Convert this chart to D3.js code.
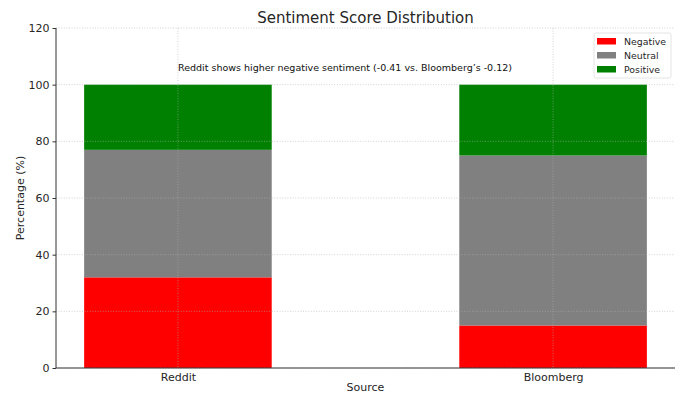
<!DOCTYPE html>
<html><head><meta charset="utf-8">
<script src="https://cdn.jsdelivr.net/npm/d3@7"></script>
<style>body{margin:0;background:#fff}svg{display:block;font-family:"DejaVu Sans",sans-serif}</style>
</head><body><svg id="c" width="681" height="397"></svg>
<script>
const categories = ["Reddit", "Bloomberg"];
const seriesNames = ["Negative", "Neutral", "Positive"];
const negative = [32, 15];
const neutral = [45, 60];
const positive = [23, 25];
const colors = ["#ff0000", "#808080", "#008000"];
const yTicks = [0, 20, 40, 60, 80, 100, 120];
const title = "Sentiment Score Distribution";
const annotation = "Reddit shows higher negative sentiment (-0.41 vs. Bloomberg\u2019s -0.12)";

const svg = d3.select("#c");
const m = {l: 56, r: 6, t: 28, b: 29};
const W = 681, H = 397;
const x = d3.scaleLinear().domain([-0.325, 1.325]).range([m.l, W - m.r]);
const y = d3.scaleLinear().domain([0, 120]).range([H - m.b, m.t]);
const bw = 0.5;

const rows = categories.map((c, i) => ({cat: c, i, Negative: negative[i], Neutral: neutral[i], Positive: positive[i]}));
const stacked = d3.stack().keys(seriesNames)(rows);

const g = svg.append("g");
stacked.forEach((s, k) => {
  g.selectAll(null).data(s).enter().append("rect")
    .attr("x", d => x(d.data.i - bw / 2))
    .attr("width", d => x(d.data.i + bw / 2) - x(d.data.i - bw / 2))
    .attr("y", d => y(d[1]))
    .attr("height", d => y(d[0]) - y(d[1]))
    .attr("fill", colors[k]);
});

// grid
const grid = svg.append("g").attr("stroke", "#b0b0b0").attr("stroke-opacity", 0.7).attr("stroke-width", 0.8).attr("stroke-dasharray", "1,1.6");
yTicks.forEach(t => grid.append("line").attr("x1", m.l).attr("x2", W - m.r).attr("y1", y(t)).attr("y2", y(t)));
categories.forEach((c, i) => grid.append("line").attr("x1", x(i)).attr("x2", x(i)).attr("y1", m.t).attr("y2", H - m.b));

// axes
const ya = svg.append("g").attr("transform", `translate(${m.l},0)`)
  .call(d3.axisLeft(y).tickValues(yTicks).tickSize(3.5).tickPadding(3));
const xa = svg.append("g").attr("transform", `translate(0,${H - m.b})`)
  .call(d3.axisBottom(x).tickValues(categories.map((c, i) => i)).tickFormat(i => categories[i]).tickSize(0).tickPadding(5));
[ya, xa].forEach(a => {
  a.selectAll("path").attr("stroke", "#333").attr("stroke-width", 1);
  a.selectAll("line").attr("stroke", "#333");
  a.selectAll("text").attr("font-size", 11).attr("fill", "#262626").attr("font-family", "DejaVu Sans");
});
ya.select(".domain").attr("d", `M0,${H - m.b}V${m.t}`);
xa.select(".domain").attr("d", `M${m.l},0H${W - m.r}`);

svg.append("text").attr("x", (m.l + W - m.r) / 2).attr("y", 23).attr("text-anchor", "middle")
  .attr("font-size", 15).attr("fill", "#262626").text(title);
svg.append("text").attr("x", (m.l + W - m.r) / 2).attr("y", 391).attr("text-anchor", "middle")
  .attr("font-size", 11).attr("fill", "#262626").text("Source");
svg.append("text").attr("transform", `translate(24,${(m.t + H - m.b) / 2}) rotate(-90)`).attr("text-anchor", "middle")
  .attr("font-size", 11).attr("fill", "#262626").text("Percentage (%)");
svg.append("text").attr("x", 345).attr("y", 71).attr("text-anchor", "middle")
  .attr("font-size", 9.5).attr("fill", "#111").text(annotation);

// legend
const lg = svg.append("g").attr("transform", "translate(594,33)");
lg.append("rect").attr("width", 77).attr("height", 45).attr("rx", 2).attr("fill", "#fff").attr("fill-opacity", 0.85)
  .attr("stroke", "#ddd").attr("stroke-width", 0.8);
seriesNames.forEach((s, k) => {
  lg.append("rect").attr("x", 3).attr("y", 5 + k * 14).attr("width", 19).attr("height", 6.5).attr("fill", colors[k]);
  lg.append("text").attr("x", 30).attr("y", 11.5 + k * 14).attr("font-size", 9.4).attr("fill", "#262626").text(s);
});
</script></body></html>
